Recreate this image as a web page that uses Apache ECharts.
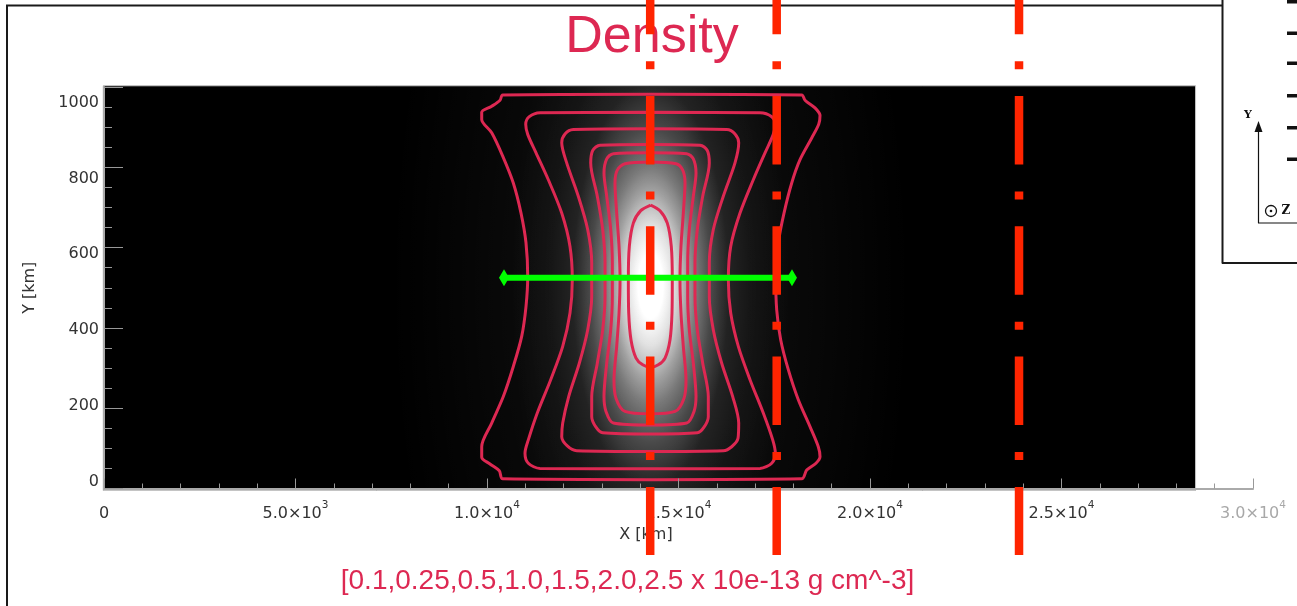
<!DOCTYPE html>
<html>
<head>
<meta charset="utf-8">
<title>Density</title>
<script src="https://cdn.jsdelivr.net/npm/echarts@6/dist/echarts.min.js"></script>
<style>
  html, body { margin: 0; padding: 0; background: #ffffff; }
  #chart { width: 1297px; height: 606px; }
</style>
</head>
<body>
<div id="chart"></div>
<script>
// Extent of the simulated density image [km]
const imageExtentX = [-20, 28500];
const imageExtentY = [-5, 1003];

// Density glow: centre x, centre y, half-width, half-height [km]; bright core, then faint halo
const densityGlow = [
  [14270, 505, 3655, 908],
  [14270, 505, 6800, 1500]
];

// Contour levels, in units of 10^-13 g cm^-3
const contourLevels = [0.1, 0.25, 0.5, 1.0, 1.5, 2.0, 2.5];

// Contour loops, [x km, y km], traced clockwise from the top
const contour010 = [
  [14300, 982], [18217, 980], [18303, 967], [18564, 948], [18695, 929], [18661, 907],
  [18478, 873], [18173, 819], [17956, 761], [17755, 686], [17606, 612], [17538, 528],
  [17564, 445], [17669, 370], [17867, 296], [18128, 221], [18434, 154], [18650, 104],
  [18695, 79], [18590, 63], [18347, 46], [18217, 24], [14300, 22], [10410, 24],
  [10321, 44], [10078, 61], [9862, 78], [9862, 104], [10123, 163], [10426, 229],
  [10687, 304], [10906, 379], [11018, 453], [11063, 528], [11018, 612], [10888, 686],
  [10687, 761], [10410, 828], [10123, 886], [9862, 919], [9862, 937], [10123, 952],
  [10340, 967], [10410, 980], [14300, 982]
];
const contour025 = [
  [14256, 937], [17128, 936], [17434, 926], [17528, 907], [17475, 882], [17259, 836],
  [16953, 769], [16606, 686], [16363, 603], [16301, 520], [16363, 437], [16562, 354],
  [16867, 271], [17214, 188], [17460, 121], [17528, 88], [17434, 63], [17128, 50],
  [14256, 49], [11384, 50], [11079, 63], [10992, 88], [11079, 121], [11313, 188],
  [11663, 271], [11977, 354], [12167, 437], [12227, 520], [12167, 603], [11951, 686],
  [11601, 769], [11280, 836], [11063, 882], [11011, 907], [11105, 926], [11384, 936],
  [14256, 937]
];
const contour050 = [
  [14256, 896], [16259, 894], [16475, 883], [16572, 861], [16475, 811], [16170, 728],
  [15909, 645], [15804, 562], [15804, 478], [15909, 395], [16128, 312], [16415, 229],
  [16572, 163], [16554, 125], [16389, 104], [16170, 94], [14256, 92], [12342, 94],
  [12097, 106], [11951, 129], [11977, 163], [12133, 229], [12410, 312], [12629, 395],
  [12734, 478], [12734, 562], [12629, 645], [12384, 728], [12081, 811], [11951, 861],
  [12037, 883], [12253, 894], [14256, 896]
];
const contour100 = [
  [14256, 857], [15562, 855], [15752, 842], [15804, 811], [15632, 728], [15491, 645],
  [15431, 562], [15431, 478], [15491, 395], [15632, 312], [15778, 229], [15778, 179],
  [15666, 153], [15491, 139], [14256, 136], [13021, 139], [12846, 153], [12734, 179],
  [12734, 229], [12880, 312], [13021, 395], [13081, 478], [13081, 562], [13021, 645],
  [12880, 728], [12708, 811], [12760, 842], [12951, 855], [14256, 857]
];
const contour150 = [
  [14256, 836], [15214, 834], [15387, 821], [15457, 786], [15387, 728], [15282, 645],
  [15240, 562], [15240, 478], [15282, 395], [15387, 312], [15457, 229], [15405, 192],
  [15214, 163], [14256, 158], [13298, 163], [13107, 192], [13055, 229], [13126, 312],
  [13230, 395], [13272, 478], [13272, 562], [13230, 645], [13126, 728], [13055, 786],
  [13126, 821], [13298, 834], [14256, 836]
];
const contour200 = [
  [14256, 813], [14935, 809], [15110, 793], [15170, 761], [15126, 686], [15065, 603],
  [15039, 520], [15065, 437], [15126, 354], [15196, 271], [15144, 225], [14909, 192],
  [14256, 186], [13603, 192], [13368, 225], [13316, 271], [13386, 354], [13447, 437],
  [13473, 520], [13447, 603], [13386, 686], [13342, 761], [13402, 793], [13603, 809],
  [14256, 813]
];
const contour250 = [
  [14274, 706], [14517, 692], [14708, 661], [14812, 603], [14838, 520], [14830, 437],
  [14778, 370], [14648, 325], [14473, 308], [14274, 302], [14065, 308], [13891, 325],
  [13760, 370], [13700, 437], [13690, 520], [13716, 603], [13820, 661], [14013, 692],
  [14274, 706]
];

// Slit positions along x [km] and the horizontal profile cut [x km, y km]
const cutPositionsX = [14261, 17564, 23891];
const profileCut = [[10444, 525], [17963, 525]];

// Axis ticks
const xTickValues = [0, 5000, 10000, 15000, 20000, 25000, 30000];
const xTickLabels = ['0', '5.0×10^3', '1.0×10^4', '1.5×10^4', '2.0×10^4', '2.5×10^4', '3.0×10^4'];
const yTickValues = [0, 200, 400, 600, 800, 1000];

// ---------------------------------------------------------------------------
const CRIMSON = '#dd2852';
const CUT_RED = '#ff2400';
const AXIS_FONT = 'DejaVu Sans';
const contourLoops = [contour010, contour025, contour050, contour100, contour150, contour200, contour250];

function whiteStops(list) {
  return list.map(([offset, a]) => ({ offset, color: 'rgba(255,255,255,' + a + ')' }));
}
const glowStops = [
  whiteStops([
    [0, 1], [0.09, 1], [0.164, 0.88], [0.214, 0.75], [0.264, 0.6], [0.329, 0.44],
    [0.43, 0.25], [0.557, 0.09], [0.714, 0.04], [0.88, 0.015], [1, 0]
  ]),
  whiteStops([[0, 0.06], [0.35, 0.05], [0.6, 0.03], [0.85, 0.01], [1, 0]])
];

function levelText(v) {
  return Number.isInteger(v * 10) ? v.toFixed(1) : String(v);
}

function xLabel(value) {
  const i = xTickValues.indexOf(value);
  if (i < 0) return '';
  const faint = value > imageExtentX[1];
  const parts = xTickLabels[i].split('^');
  let s = '{' + (faint ? 'mf' : 'm') + '|' + parts[0] + '}';
  if (parts.length > 1) s += '{' + (faint ? 'sf' : 's') + '|' + parts[1] + '}';
  return s;
}

const chart = echarts.init(document.getElementById('chart'), null, { renderer: 'canvas' });

const option = {
  animation: false,
  backgroundColor: '#ffffff',
  grid: { left: 104, top: 87, width: 1149, height: 401.5, containLabel: false },
  xAxis: {
    type: 'value', min: 0, max: 30000, interval: 5000, z: 10,
    name: 'X [km]', nameLocation: 'middle', nameGap: 31,
    nameTextStyle: { fontFamily: AXIS_FONT, fontSize: 16, color: '#333', padding: [0, 65, 0, 0] },
    axisLine: { show: true, lineStyle: { color: '#aaaaaa', width: 2 } },
    axisTick: { show: true, inside: true, length: 10, lineStyle: { color: '#999999', width: 1 } },
    minorTick: { show: true, splitNumber: 5, length: 5, lineStyle: { color: '#999999', width: 1 } },
    splitLine: { show: false },
    axisLabel: {
      margin: 11, formatter: xLabel,
      rich: {
        m: { fontFamily: AXIS_FONT, fontSize: 16, color: '#333', lineHeight: 22, verticalAlign: 'bottom' },
        s: { fontFamily: AXIS_FONT, fontSize: 10.5, color: '#333', lineHeight: 9, verticalAlign: 'top' },
        mf: { fontFamily: AXIS_FONT, fontSize: 16, color: '#a8a8a8', lineHeight: 22, verticalAlign: 'bottom' },
        sf: { fontFamily: AXIS_FONT, fontSize: 10.5, color: '#a8a8a8', lineHeight: 9, verticalAlign: 'top' }
      }
    }
  },
  yAxis: [
    {
      type: 'value', min: 0, max: 1000, interval: 200, position: 'left', z: 10,
      name: 'Y [km]', nameLocation: 'middle', nameGap: 66,
      nameTextStyle: { fontFamily: AXIS_FONT, fontSize: 16, color: '#333' },
      axisLine: { show: true, lineStyle: { color: '#aaaaaa', width: 2 } },
      axisTick: { show: true, inside: true, length: 19, lineStyle: { color: '#999999', width: 1 } },
      minorTick: { show: true, splitNumber: 4, length: 8, lineStyle: { color: '#999999', width: 1 } },
      splitLine: { show: false },
      axisLabel: { show: false }
    },
    {
      // tick labels, set slightly apart from the ticks as in the IDL output
      type: 'value', min: -17.1, max: 1040.9, position: 'left', z: 10,
      axisLine: { show: false }, axisTick: { show: false }, splitLine: { show: false },
      axisLabel: {
        customValues: yTickValues, margin: 5, formatter: v => String(v),
        fontFamily: AXIS_FONT, fontSize: 16, color: '#333'
      }
    }
  ],
  series: [
    {
      type: 'custom', name: 'image', z: 1, silent: true, clip: false,
      data: [[imageExtentX[0], imageExtentY[0], imageExtentX[1], imageExtentY[1]]],
      encode: { x: [0, 2], y: [1, 3] },
      renderItem: function (params, api) {
        const p0 = api.coord([api.value(0), api.value(3)]);
        const p1 = api.coord([api.value(2), api.value(1)]);
        return {
          type: 'rect',
          shape: { x: p0[0], y: p0[1], width: p1[0] - p0[0], height: p1[1] - p0[1] },
          style: { fill: '#000000', stroke: '#c4c4c4', lineWidth: 1 }
        };
      }
    },
    {
      type: 'custom', name: 'density', z: 2, silent: true, clip: true,
      data: densityGlow,
      encode: { x: 0, y: 1 },
      renderItem: function (params, api) {
        const c = api.coord([api.value(0), api.value(1)]);
        const s = api.size([api.value(2), api.value(3)], [api.value(0), api.value(1)]);
        return {
          type: 'circle',
          x: c[0], y: c[1], scaleX: 1, scaleY: s[1] / s[0],
          shape: { cx: 0, cy: 0, r: s[0] },
          style: { fill: { type: 'radial', x: 0.5, y: 0.5, r: 0.5, colorStops: glowStops[params.dataIndex] } }
        };
      }
    }
  ].concat(contourLoops.map((loop, i) => ({
    type: 'line', name: levelText(contourLevels[i]), data: loop, z: 4, silent: true,
    smooth: 0.3, symbol: 'none', showSymbol: false,
    lineStyle: { color: CRIMSON, width: 3 }
  }))).concat([
    {
      type: 'line', name: 'cut', data: profileCut, z: 6, silent: true,
      symbol: 'diamond', symbolSize: [10, 17], showSymbol: true,
      itemStyle: { color: '#00ff00' },
      lineStyle: { color: '#00ff00', width: 6 }
    },
    {
      type: 'custom', name: 'slits', z: 20, silent: true, clip: false,
      data: cutPositionsX.map(x => [x, 0]),
      encode: { x: 0, y: 1 },
      renderItem: function (params, api) {
        const px = api.coord([api.value(0), 0])[0];
        return {
          type: 'line',
          shape: { x1: px, y1: 0, x2: px, y2: 555 },
          style: { stroke: CUT_RED, lineWidth: 8.5, lineDash: [68.5, 27, 8, 26.8], lineDashOffset: 34.3 }
        };
      }
    }
  ]),
  graphic: [
    // panel frame
    { type: 'line', z: 5, shape: { x1: 6, y1: 5.5, x2: 1223, y2: 5.5 }, style: { stroke: '#1a1a1a', lineWidth: 2 } },
    { type: 'line', z: 5, shape: { x1: 7, y1: 5, x2: 7, y2: 606 }, style: { stroke: '#1a1a1a', lineWidth: 2 } },
    { type: 'line', z: 5, shape: { x1: 1222.5, y1: 0, x2: 1222.5, y2: 263.5 }, style: { stroke: '#1a1a1a', lineWidth: 2 } },
    { type: 'line', z: 5, shape: { x1: 1222, y1: 263, x2: 1297, y2: 263 }, style: { stroke: '#1a1a1a', lineWidth: 2 } },
    // inset: scale marks and orientation axes
    { type: 'rect', shape: { x: 1287, y: 0, width: 10, height: 3.5 }, style: { fill: '#111' } },
    { type: 'rect', shape: { x: 1287, y: 31.5, width: 10, height: 3.5 }, style: { fill: '#111' } },
    { type: 'rect', shape: { x: 1287, y: 61.5, width: 10, height: 3.5 }, style: { fill: '#111' } },
    { type: 'rect', shape: { x: 1287, y: 94, width: 10, height: 3.5 }, style: { fill: '#111' } },
    { type: 'rect', shape: { x: 1287, y: 126, width: 10, height: 3.5 }, style: { fill: '#111' } },
    { type: 'rect', shape: { x: 1287, y: 157.5, width: 10, height: 3.5 }, style: { fill: '#111' } },
    { type: 'line', shape: { x1: 1258.5, y1: 130, x2: 1258.5, y2: 223 }, style: { stroke: '#111', lineWidth: 1.2 } },
    { type: 'line', shape: { x1: 1258, y1: 223, x2: 1297, y2: 223 }, style: { stroke: '#111', lineWidth: 1.2 } },
    { type: 'polygon', shape: { points: [[1258.5, 121], [1254.5, 132], [1262.5, 132]] }, style: { fill: '#111' } },
    { type: 'text', style: { text: 'Y', x: 1248, y: 115, font: 'bold 11px "DejaVu Serif"', fill: '#111', textAlign: 'center', textVerticalAlign: 'middle' } },
    { type: 'circle', shape: { cx: 1271, cy: 211, r: 5.5 }, style: { fill: 'none', stroke: '#111', lineWidth: 1.3 } },
    { type: 'circle', shape: { cx: 1271, cy: 211, r: 1.3 }, style: { fill: '#111' } },
    { type: 'text', style: { text: 'Z', x: 1286, y: 211, font: 'bold 12px "DejaVu Serif"', fill: '#111', textAlign: 'center', textVerticalAlign: 'middle' } },
    // title and contour legend
    { type: 'text', z: 1, style: { text: 'Density', x: 652, y: 38, font: '52px "Liberation Sans"', fill: CRIMSON, textAlign: 'center', textVerticalAlign: 'middle' } },
    { type: 'text', z: 1, style: {
        text: '[' + contourLevels.map(levelText).join(',') + ' x 10e-13 g cm^-3]',
        x: 627.5, y: 581, font: '28px "Liberation Sans"', fill: CRIMSON, textAlign: 'center', textVerticalAlign: 'middle' } }
  ]
};

chart.setOption(option);
</script>
</body>
</html>
